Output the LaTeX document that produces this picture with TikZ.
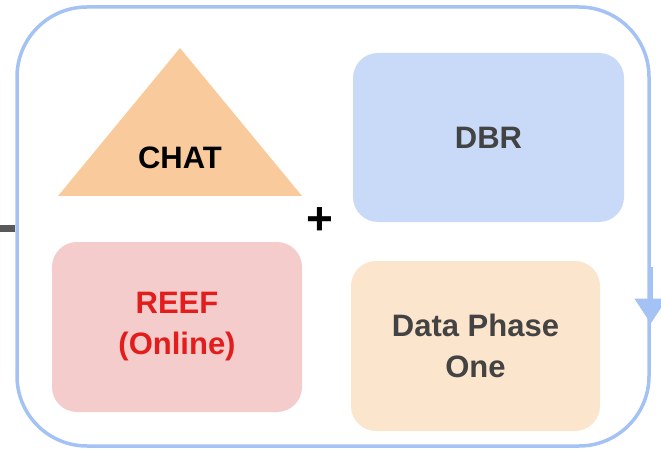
\documentclass[tikz,border=0pt]{standalone}
\usepackage{fontspec}
\setmainfont{Liberation Sans}
\usetikzlibrary{arrows.meta,positioning}
\definecolor{frameblue}{HTML}{A4C2F4}
\definecolor{chatorange}{HTML}{F9CB9C}
\definecolor{dbrblue}{HTML}{C9DAF8}
\definecolor{reefpink}{HTML}{F4CCCC}
\definecolor{dataorange}{HTML}{FCE5CD}
\definecolor{textgrey}{HTML}{434343}
\definecolor{linkgrey}{HTML}{595959}
\definecolor{reefred}{HTML}{E31C1C}

\begin{document}
\begin{tikzpicture}[
  x=1pt, y=-1pt,
  font=\fontsize{31}{41}\selectfont\bfseries,
  frame/.style={draw=frameblue, rounded corners=70pt, line width=3.5pt,
    minimum width=632pt, minimum height=439pt, inner sep=0pt},
  card/.style={rounded corners=25pt, minimum width=#1, align=center,
    text=textgrey, inner sep=0pt},
  link/.style={draw=linkgrey, line width=7pt}
]
\useasboundingbox (0,0) rectangle (661,449);
\node[frame] (outer) at (333,226.5) {};
% triangle
\fill[chatorange] (180,48) -- (302,196) -- (58,196) -- cycle;
\node[text=black] (chat) at (180,158) {CHAT};
\node[card=271pt, minimum height=169pt, fill=dbrblue] (dbr) at (488.5,137.5) {DBR};
\node[card=250pt, minimum height=170pt, fill=reefpink, text=reefred] (reef) at (177,327) {REEF\\(Online)};
\node[card=249pt, minimum height=170pt, fill=dataorange] (data) at (475.5,346) {Data Phase\\One};
\node[text=black, font=\fontsize{46}{46}\selectfont\bfseries] (plus) at (320,221) {+};
\coordinate (in) at (0,228);
\draw[link] (in) -- (in -| outer.west);
\path (outer.east) ++(0,40) coordinate (arrowtail);
\draw[frameblue, line width=3.5pt, -{Triangle[length=25pt, width=32pt]}]
  (arrowtail) -- ++(0,57);
\end{tikzpicture}
\end{document}
